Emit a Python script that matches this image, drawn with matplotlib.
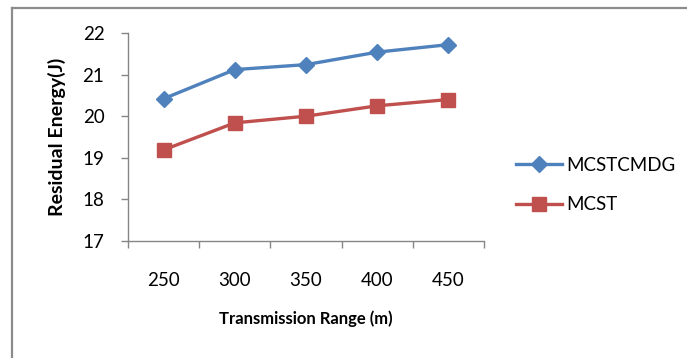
import matplotlib
matplotlib.use("Agg")
import matplotlib.pyplot as plt
from matplotlib.lines import Line2D

categories = ["250", "300", "350", "400", "450"]
mcstcmdg = [20.42, 21.12, 21.24, 21.54, 21.72]
mcst = [19.19, 19.84, 20.00, 20.25, 20.40]
yticks = [17, 18, 19, 20, 21, 22]

plt.rcParams['font.family'] = ['Lato', 'DejaVu Sans']

W, H = 687, 358
fig = plt.figure(figsize=(W/100, H/100), dpi=100)
ax = fig.add_axes([128/W, 1-241/H, (484-128)/W, (241-33)/H])

x = list(range(len(categories)))
blue = "#4F81BD"
red = "#C0504D"
ax.plot(x, mcstcmdg, color=blue, lw=2.4, marker="D", markersize=8.5, label="MCSTCMDG")
ax.plot(x, mcst, color=red, lw=2.4, marker="s", markersize=10, label="MCST")

ax.set_xlim(-0.5, len(categories)-0.5)
ax.set_ylim(17, 22)
ax.set_yticks(yticks)
ax.set_yticklabels([str(v) for v in yticks], fontsize=13.5)
ax.set_xticks(x)
ax.set_xticklabels(categories, fontsize=13.5)
ax.set_xticks([i-0.5 for i in range(len(categories)+1)], minor=True)
ax.tick_params(axis='x', which='major', length=0, pad=22)
ax.tick_params(axis='x', which='minor', length=5, color="#868686", width=1)
ax.tick_params(axis='y', length=5, color="#868686", width=1, pad=12)

for s in ["top", "right"]:
    ax.spines[s].set_visible(False)
for s in ["left", "bottom"]:
    ax.spines[s].set_color("#868686")
    ax.spines[s].set_linewidth(1)

ax.set_xlabel("Transmission Range (m)", fontsize=12, fontweight="bold", labelpad=16)
ax.set_ylabel("Residual Energy(J)", fontsize=14, fontweight="bold", labelpad=12)

leg = ax.legend(loc="center left", bbox_to_anchor=(499/W, 1-185/H), bbox_transform=fig.transFigure,
                frameon=False, fontsize=13.5, handlelength=2.45, handletextpad=0.25,
                labelspacing=1.2)

fig.add_artist(Line2D([12/W, 12/W], [0, 1-7.5/H], transform=fig.transFigure, color="#8c8c8c", lw=1.6))
fig.add_artist(Line2D([12/W, 1], [1-7.5/H, 1-7.5/H], transform=fig.transFigure, color="#8c8c8c", lw=1.6))

fig.savefig("out.png", dpi=100)
